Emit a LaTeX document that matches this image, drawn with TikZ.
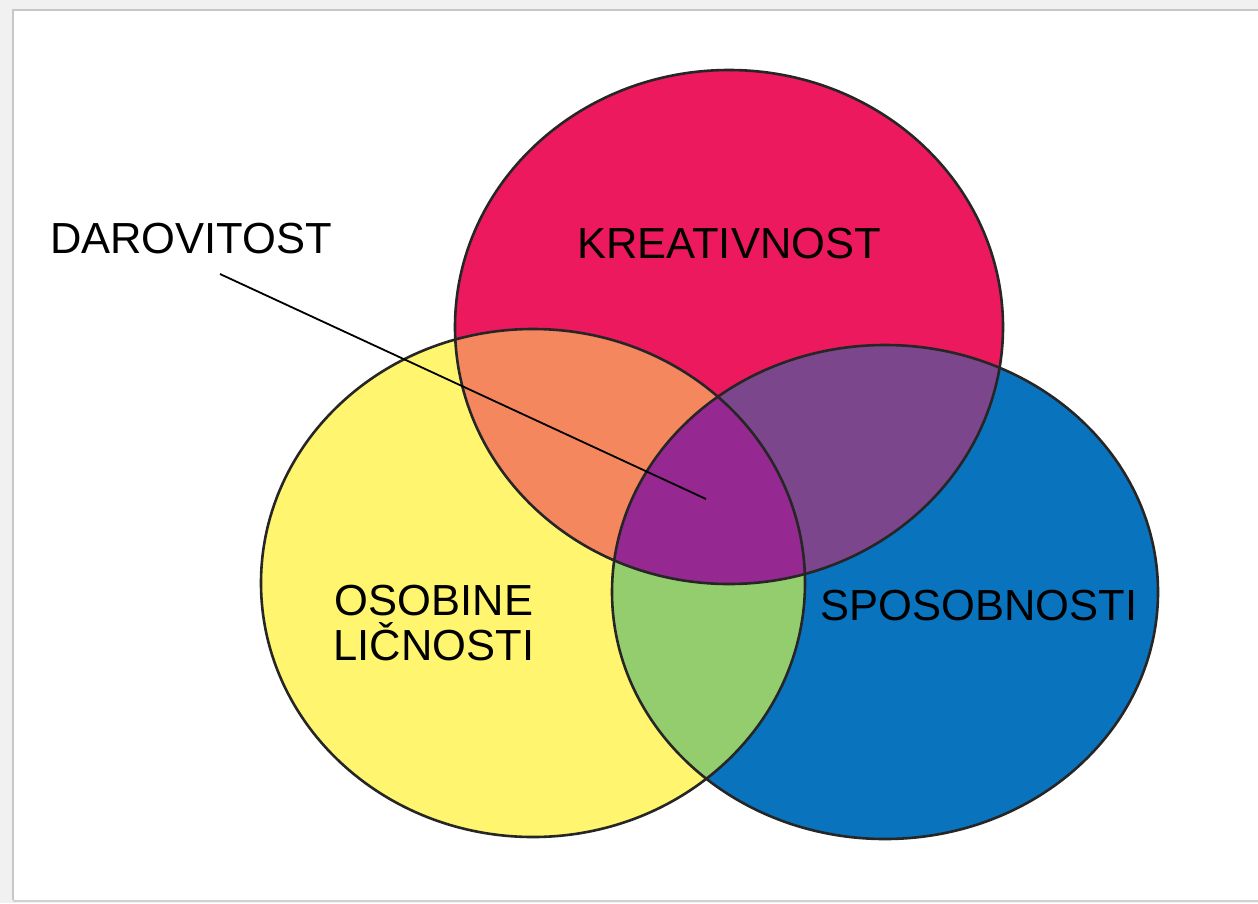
\documentclass[tikz,border=0pt]{standalone}
\usepackage{fontspec}
\setmainfont{Liberation Sans}
\begin{document}
\begin{tikzpicture}[x=1pt,y=-1pt,
  lbl/.style={font=\fontsize{43.5}{45}\selectfont, text=black, inner sep=0pt, anchor=base, align=center},
  outline/.style={draw=black!85, line width=2.6pt}]
\definecolor{bgray}{RGB}{241,241,241}
\definecolor{cred}{RGB}{237,25,95}
\definecolor{cyel}{RGB}{255,245,110}
\definecolor{cblue}{RGB}{9,115,190}
\definecolor{corange}{RGB}{245,135,95}
\definecolor{cpurple}{RGB}{123,70,140}
\definecolor{cgreen}{RGB}{148,205,110}
\definecolor{ctriple}{RGB}{150,40,145}
\useasboundingbox (0,0) rectangle (1258,903);
% background and panel
\fill[bgray] (0,0) rectangle (1258,903);
\fill[white] (13,10) rectangle (1258,900);
\draw[black!22, line width=2pt] (13,900) -- (13,10) -- (1258,10);
\draw[black!18, line width=2pt] (13,901) -- (1258,901);
% ellipse definitions
\def\Red{(729,327) ellipse [x radius=274pt, y radius=257pt]}
\def\Yel{(533,583) ellipse [x radius=272pt, y radius=254pt]}
\def\Blu{(885,592) ellipse [x radius=273pt, y radius=247pt]}
% fills
\fill[cyel] \Yel;
\fill[cblue] \Blu;
\fill[cred] \Red;
\begin{scope}\clip \Red; \fill[corange] \Yel; \end{scope}
\begin{scope}\clip \Red; \fill[cpurple] \Blu; \end{scope}
\begin{scope}\clip \Yel; \fill[cgreen] \Blu; \end{scope}
\begin{scope}\clip \Red; \clip \Yel; \fill[ctriple] \Blu; \end{scope}
% outlines
\draw[outline] \Yel;
\draw[outline] \Blu;
\draw[outline] \Red;
% labels
\node[lbl] (kre) at (729,258) {KREATIVNOST};
\node[lbl] (spo) at (979,620) {SPOSOBNOSTI};
\node[lbl, anchor=north] (oso) at (434,585) {OSOBINE\\LIČNOSTI};
\node[lbl] (dar) at (191,253) {DAROVITOST};
\coordinate (ls) at (220,274);
\coordinate (le) at (706,499);
\draw[black, line width=1.8pt] (ls) -- (le);
\end{tikzpicture}
\end{document}
